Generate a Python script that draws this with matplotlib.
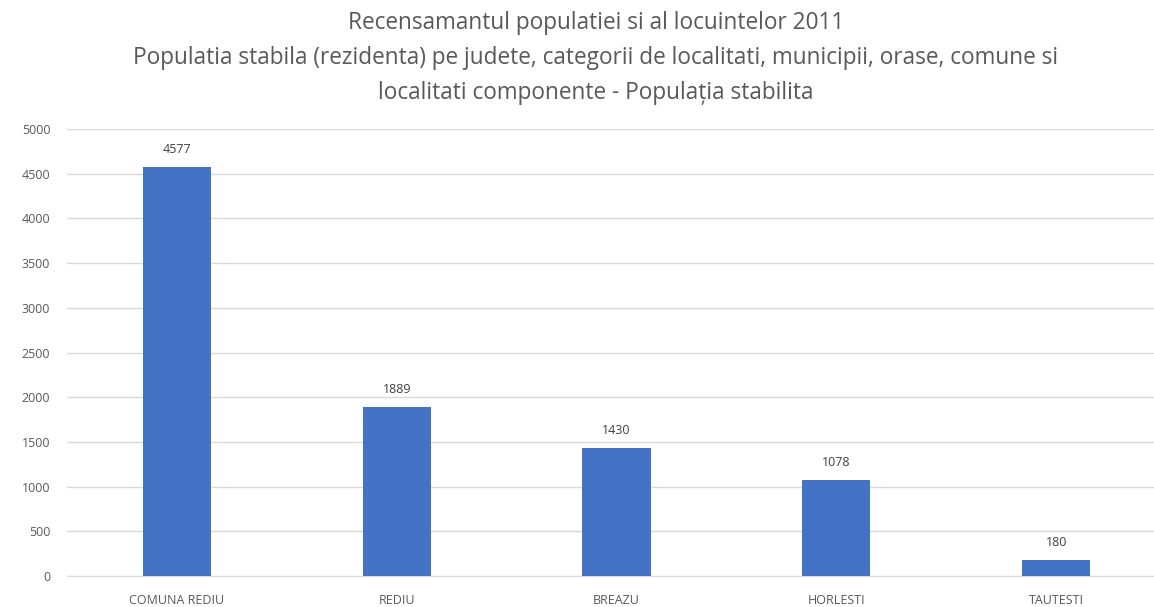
import matplotlib
matplotlib.use("Agg")
import matplotlib.pyplot as plt

categories = ["COMUNA REDIU", "REDIU", "BREAZU", "HORLESTI", "TAUTESTI"]
values = [4577, 1889, 1430, 1078, 180]
yticks = [0, 500, 1000, 1500, 2000, 2500, 3000, 3500, 4000, 4500, 5000]
title = ("Recensamantul populatiei si al locuintelor 2011\n"
         "Populatia stabila (rezidenta) pe judete, categorii de localitati, municipii, orase, comune si\n"
         "localitati componente - Populația stabilita")

plt.rcParams['font.family'] = ['Open Sans', 'DejaVu Sans']

fig = plt.figure(figsize=(11.54, 6.07), dpi=100)
ax = fig.add_axes([67/1154, 1-576/607, 1099/1154, (576-129)/607])

x = list(range(len(categories)))
bars = ax.bar(x, values, width=0.31, color="#4472C4", zorder=3)
for xi, v in zip(x, values):
    ax.annotate(str(v), (xi, v), xytext=(0, 8), textcoords="offset points",
                ha="center", va="bottom", fontsize=9, color="#404040")

ax.set_xlim(-0.5, len(categories) - 0.5)
ax.set_ylim(0, 5000)
ax.set_yticks(yticks)
ax.set_xticks(x)
ax.set_xticklabels(categories, fontsize=9, color="#595959")
ax.tick_params(axis="y", labelsize=9, labelcolor="#595959", length=0, pad=12)
ax.tick_params(axis="x", length=0, pad=13)
ax.grid(axis="y", color="#d9d9d9", linewidth=1, zorder=0)
for s in ["top", "right", "left"]:
    ax.spines[s].set_visible(False)
ax.spines["bottom"].set_color("#d9d9d9")

fig.text(596/1154, 1 - 58/607, title, ha="center", va="center", fontsize=16.3,
         color="#595959", linespacing=1.62)

fig.savefig("out.png", dpi=100)
